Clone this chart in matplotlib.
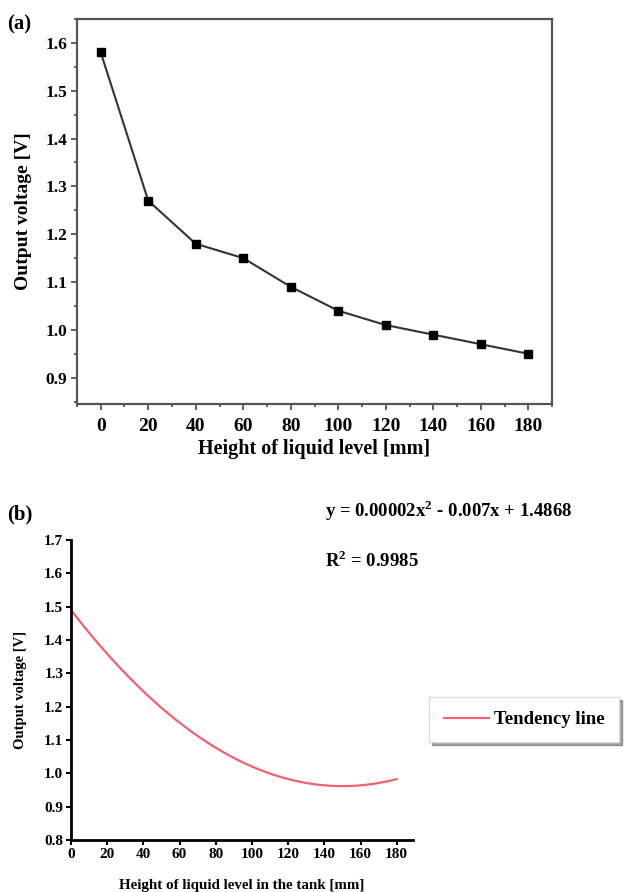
# Two-panel figure: measured output voltage vs liquid level (a)
# and the quadratic tendency line (b)

import numpy as np
import matplotlib.pyplot as plt
from matplotlib.ticker import MultipleLocator

plt.rcParams['font.family'] = ['Liberation Serif', 'DejaVu Serif']
plt.rcParams['font.weight'] = 'bold'
plt.rcParams['mathtext.fontset'] = 'custom'
plt.rcParams['mathtext.rm'] = 'Liberation Serif:bold'
plt.rcParams['mathtext.bf'] = 'Liberation Serif:bold'

# %% data
# -------

height_mm = [0, 20, 40, 60, 80, 100, 120, 140, 160, 180]
voltage_v = [1.58, 1.27, 1.18, 1.15, 1.09, 1.04, 1.01, 0.99, 0.97, 0.95]

# points in panel (b)
trend_x = [0, 20, 40, 60, 80, 100, 120, 140, 160, 180]
trend_y = [1.490, 1.358, 1.246, 1.153, 1.077, 1.020, 0.982, 0.964, 0.964, 0.983]

equation_text = r'y = 0.00002x$^{2}$ - 0.007x + 1.4868'
r2_text = r'R$^{2}$ = 0.9985'

# %% figure
# ---------

fig = plt.figure(figsize=(6.27, 8.92), dpi=100)

# panel (a)
ax1 = fig.add_axes([0.1228, 0.5471, 0.7576, 0.4316])
ax1.plot(height_mm, voltage_v, color='#333333', lw=1.5, marker='s',
         ms=6, mfc='black', mec='black')
ax1.set_xlim(-10, 190)
ax1.set_ylim(0.845, 1.65)
ax1.xaxis.set_major_locator(MultipleLocator(20))
ax1.xaxis.set_minor_locator(MultipleLocator(10))
ax1.yaxis.set_major_locator(MultipleLocator(0.1))
ax1.yaxis.set_minor_locator(MultipleLocator(0.05))
ax1.yaxis.set_major_formatter(plt.FormatStrFormatter('%.1f'))
for s in ax1.spines.values():
    s.set_color('#555555')
    s.set_linewidth(1.6)
ax1.tick_params(which='both', direction='out', color='#555555', width=1.3)
ax1.tick_params(which='major', length=4)
ax1.tick_params(which='minor', length=2.5)
ax1.tick_params(axis='x', labelsize=14, pad=6)
ax1.tick_params(axis='y', labelsize=12.5, pad=3)
ax1.set_xlabel('Height of liquid level [mm]', fontsize=14.5, fontweight='bold',
               labelpad=3)
ax1.set_ylabel('Output voltage [V]', fontsize=14, fontweight='bold',
               labelpad=10)
fig.text(0.012, 0.972, '(a)', fontsize=15, fontweight='bold', va='center')

# panel (b)
ax2 = fig.add_axes([0.1132, 0.0583, 0.5455, 0.3363])
coef = np.polyfit(trend_x, trend_y, 2)
xs = np.linspace(min(trend_x), max(trend_x), 200)
ax2.plot(xs, np.polyval(coef, xs), color='#f2616e', lw=1.6,
         label='Tendency line')
ax2.set_xlim(0, 189)
ax2.set_ylim(0.8, 1.7)
ax2.xaxis.set_major_locator(MultipleLocator(20))
ax2.yaxis.set_major_locator(MultipleLocator(0.1))
ax2.yaxis.set_major_formatter(plt.FormatStrFormatter('%.1f'))
ax2.spines['top'].set_visible(False)
ax2.spines['right'].set_visible(False)
for s in ('left', 'bottom'):
    ax2.spines[s].set_linewidth(2)
    ax2.spines[s].set_color('black')
ax2.tick_params(direction='out', length=3.5, width=1.5, labelsize=11, pad=2)
ax2.set_xlabel('Height of liquid level in the tank [mm]', fontsize=10.8,
               fontweight='bold', va='center')
ax2.xaxis.set_label_coords(0.5, -0.153)
ax2.set_ylabel('Output voltage [V]', fontsize=10.5, fontweight='bold',
               labelpad=12)
fig.text(0.012, 0.423, '(b)', fontsize=15, fontweight='bold', va='center')

fig.text(0.518, 0.428, equation_text, fontsize=13.5, va='center')
fig.text(0.518, 0.372, r2_text, fontsize=13.5, va='center')

leg = ax2.legend(loc='center', bbox_to_anchor=(0.836, 0.193),
                 bbox_transform=fig.transFigure,
                 prop={'weight': 'bold', 'size': 13.5}, fancybox=False,
                 shadow=True, framealpha=1, edgecolor='#dddddd',
                 handlelength=2.4, handletextpad=0.3, borderpad=0.75)

fig.savefig('out.png', dpi=100)
